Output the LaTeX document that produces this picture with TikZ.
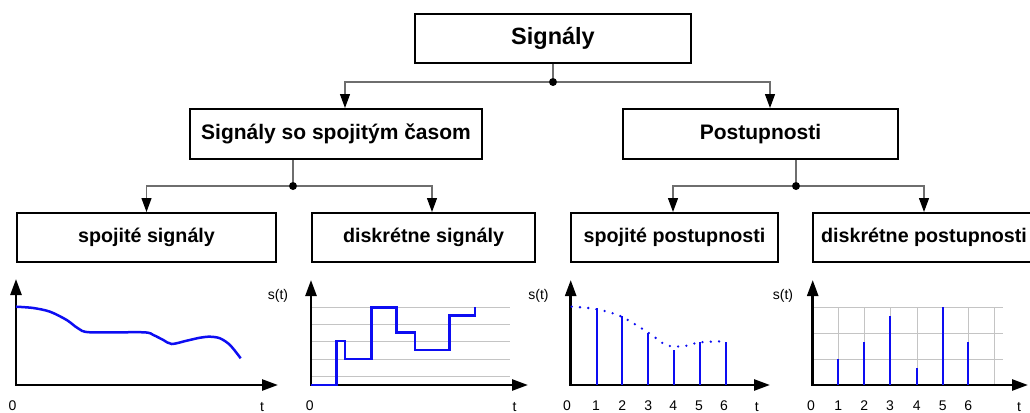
\documentclass[tikz,border=0pt]{standalone}
\usepackage{fontspec}
\setmainfont{Liberation Sans}
\usetikzlibrary{arrows.meta, positioning, calc}
\definecolor{wirecol}{HTML}{6E6E6E}
\definecolor{gridgray}{HTML}{C4C4C4}
\definecolor{sigblue}{HTML}{0D0DF2}

\begin{document}
\begin{tikzpicture}[x=1pt, y=-1pt,
  >={Triangle[length=14pt, width=10pt, color=black]},
  box/.style={draw, line width=2pt, inner sep=0pt, minimum height=49pt,
    font=\bfseries\fontsize{19.7}{22}\selectfont},
  midbox/.style={box, minimum height=50pt, font=\bfseries\fontsize{21}{24}\selectfont},
  dot/.style={circle, fill, inner sep=0pt, minimum size=8pt},
  wire/.style={draw=wirecol, line width=1.2pt},
  axes/.style={line width=2.5pt, line join=miter,
    {Triangle[length=16pt, width=11pt]}-{Triangle[length=16pt, width=11pt]}},
  lbl/.style={font=\fontsize{14}{16}\selectfont, anchor=base, inner sep=0pt},
  stem/.style={sigblue, line width=2.2pt}]
  \useasboundingbox (0,0) rectangle (1030,412);

  % tree of boxes
  \node[box, minimum width=276pt, font=\bfseries\fontsize{23.5}{26}\selectfont] (root) at (553,38.5) {Signály};
  \node[midbox, minimum width=292pt] (cont) at (336,134) {Signály so spojitým časom};
  \node[midbox, minimum width=275pt] (seq) at (760.5,134) {Postupnosti};
  \node[box, minimum width=259pt] (cs) at (146.5,237.5) {spojité signály};
  \node[box, minimum width=223pt] (ds) at (423.5,237.5) {diskrétne signály};
  \node[box, minimum width=207pt] (cq) at (674.5,237.5) {spojité postupnosti};
  \node[box, minimum width=222pt] (dq) at (924,237.5) {diskrétne postupnosti};

  \node[dot] (j0) at (553,82) {};
  \node[dot] (j1) at (293,186) {};
  \node[dot] (j2) at (796,186) {};

  \draw[wire] (root) -- (j0);
  \draw[wire, ->] (j0) -| ([xshift=9pt]cont.north);
  \draw[wire, ->] (j0) -| ([xshift=9.5pt]seq.north);
  \draw[wire] (j1 |- cont.south) -- (j1);
  \draw[wire, ->] (j1) -| (cs.north);
  \draw[wire, ->] (j1) -| ([xshift=8.5pt]ds.north);
  \draw[wire] (j2 |- seq.south) -- (j2);
  \draw[wire, ->] (j2) -| ([xshift=-1.5pt]cq.north);
  \draw[wire, ->] (j2) -| (dq.north);

  % continuous signal
  \draw[axes] (16,279) -- (16,385) -- (278,385);
  \draw[sigblue, line width=2.5pt] plot[smooth] coordinates {(16,306.7) (33.3,308) (50,311.7)
    (66.7,320) (78.3,328.5) (90,332.3) (143.3,332.3) (153.3,335) (163.3,340)
    (171.7,344) (186.7,340.7) (200,337.7) (210,336.7) (220,338.3) (230,345) (240.7,358.3)};
  \node[lbl] (st1) at (278,299) {s(t)};
  \node[lbl] (za) at (12.5,410) {0};
  \node[lbl] (ta) at (262,411) {t};

  % quantised signal
  \foreach \gy in {307.3,324,341,359,376}
    \draw[gridgray] (311,\gy) -- (510,\gy);
  \draw[axes] (311,280) -- (311,385) -- (528,385);
  \draw[sigblue, line width=2.5pt] (311,385) -- (336.7,385) |- (345,341) |- (371.7,359)
    |- (396.7,307.3) |- (415,332.3) |- (449.3,350) |- (475,315.7) -- (475,307.3);
  \node[lbl] (zb) at (309.7,410) {0};
  \node[lbl] (tb) at (514.5,411) {t};

  % sampled sequence
  \draw[axes] (570.7,280) -- (570.7,385) -- (770,385);
  \draw[sigblue, line width=2.6pt, line cap=round, dash pattern=on 0pt off 8.3pt]
    plot[smooth] coordinates {(571.7,306.7) (588.3,308) (606,311.3) (621.7,316.7)
    (637.3,325.7) (651.7,335) (666.7,345.3) (683.3,346.3) (700,342.3) (726,341.3)};
  \foreach \sx/\sy in {596.7/307.7, 622.3/316, 648.3/333.3, 674/350, 700/341.7, 726/341.7}
    \draw[stem] (\sx,385) -- (\sx,\sy);
  \node[lbl] (st3) at (538.5,299) {s(t)};
  \node[lbl] (zc) at (567,410) {0};
  \foreach \n/\lx in {1/596, 2/622.3, 3/648.3, 4/673.3, 5/699, 6/724}
    \node[lbl] (c\n) at (\lx,410) {\n};
  \node[lbl] (tc) at (756.7,411) {t};

  % quantised sequence
  \foreach \gy in {307.3,332.7,359}
    \draw[gridgray] (812.7,\gy) -- (1003,\gy);
  \foreach \gx in {838.3,864.3,890,916.7,942.7,968.3,994.3}
    \draw[gridgray] (\gx,307.3) -- (\gx,385);
  \draw[axes] (812.7,280) -- (812.7,385) -- (1028,385);
  \foreach \sx/\sy in {838.3/359, 864.3/341.7, 890/315.7, 916.7/367.7, 942.7/307.3, 968.3/341.7}
    \draw[stem] (\sx,385) -- (\sx,\sy);
  \node[lbl] (st4) at (783,299) {s(t)};
  \node[lbl] (zd) at (811,410) {0};
  \foreach \n/\lx in {1/838.3, 2/864.3, 3/890, 4/916.7, 5/942.7, 6/968.3}
    \node[lbl] (d\n) at (\lx,410) {\n};
  \node[lbl] (td) at (1019,411) {t};
\end{tikzpicture}
\end{document}
